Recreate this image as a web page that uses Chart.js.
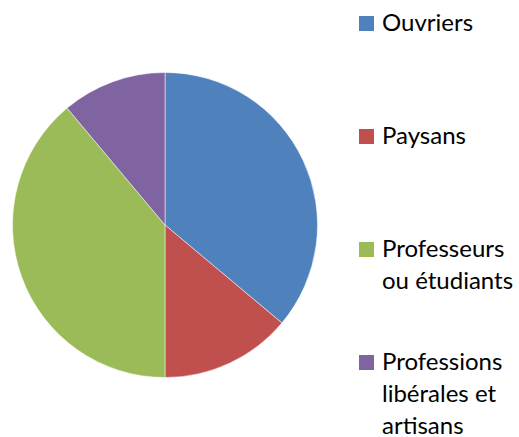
<!DOCTYPE html>
<html>
<head>
<meta charset="utf-8">
<script src="https://cdn.jsdelivr.net/npm/chart.js@4/dist/chart.umd.min.js"></script>
<style>
  html, body { margin: 0; padding: 0; background: #fff; width: 519px; height: 437px; overflow: hidden; }
  #wrap { position: absolute; left: 12px; top: 72px; width: 306px; height: 306px; }
  #legend { position: absolute; left: 0; top: 0; }
  .item { position: absolute; left: 359px; }
  .box { position: absolute; left: 0; top: 0; width: 15px; height: 15px; }
  .txt { position: absolute; left: 23px; top: -10px; width: 150px;
         font-family: Lato, "Open Sans", sans-serif; font-size: 24px; line-height: 32px; color: #000; }
</style>
</head>
<body>
<div id="wrap"><canvas id="c" width="306" height="306"></canvas></div>
<div id="legend"></div>
<script>
const categories = ['Ouvriers', 'Paysans', 'Professeurs ou étudiants', 'Professions libérales et artisans'];
const values = [36.1, 13.9, 38.9, 11.1];
const colors = ['#4F81BD', '#C0504D', '#9BBB59', '#8064A2'];

const chart = new Chart(document.getElementById('c'), {
  type: 'pie',
  data: {
    labels: categories,
    datasets: [{
      data: values,
      backgroundColor: colors,
      borderColor: 'rgba(255,255,255,0.5)',
      borderWidth: 1
    }]
  },
  options: {
    responsive: false,
    animation: false,
    layout: { padding: 0 },
    plugins: { legend: { display: false }, tooltip: { enabled: false } }
  }
});

const legend = document.getElementById('legend');
chart.data.labels.forEach((lab, i) => {
  const item = document.createElement('div');
  item.className = 'item';
  item.style.top = (16 + i * 113) + 'px';
  const box = document.createElement('div');
  box.className = 'box';
  box.style.background = chart.data.datasets[0].backgroundColor[i];
  const txt = document.createElement('div');
  txt.className = 'txt';
  txt.textContent = lab;
  item.appendChild(box);
  item.appendChild(txt);
  legend.appendChild(item);
});
</script>
</body>
</html>
